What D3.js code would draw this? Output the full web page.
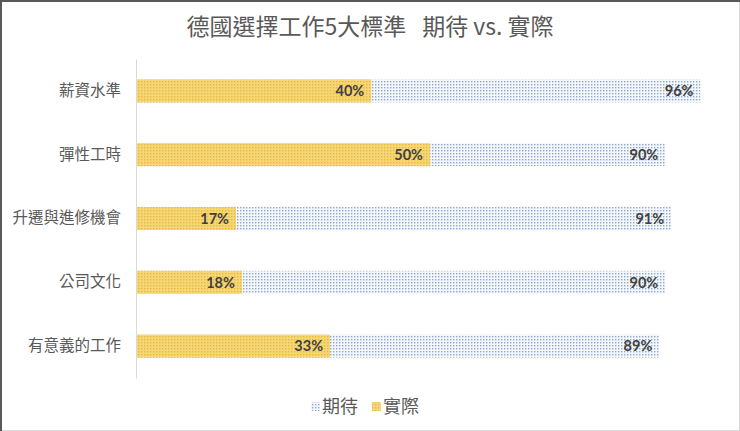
<!DOCTYPE html>
<html>
<head>
<meta charset="utf-8">
<script src="https://cdn.jsdelivr.net/npm/d3@7"></script>
<style>
  html, body { margin: 0; padding: 0; background: #fff; }
  svg { display: block; }
</style>
</head>
<body>
<svg id="chart" width="740" height="431"></svg>
<script>
// data
const categories = ["薪資水準", "彈性工時", "升遷與進修機會", "公司文化", "有意義的工作"];
const expected = [96, 90, 91, 90, 89];
const actual = [40, 50, 17, 18, 33];
const seriesNames = ["期待", "實際"];
const titleParts = ["德國選擇工作5大標準", "期待 vs. 實際"];

const width = 740;
const height = 431;
const margin = { top: 59, right: 16, bottom: 53, left: 136 };

const svg = d3.select("#chart");
const cjk = "'Noto Sans CJK TC', 'Noto Sans CJK SC', sans-serif";

// patterns
const defs = svg.append("defs");
const pBlue = defs.append("pattern")
  .attr("id", "dotBlue").attr("patternUnits", "userSpaceOnUse")
  .attr("width", 3).attr("height", 3);
pBlue.append("rect").attr("width", 3).attr("height", 3).attr("fill", "#f4f7fc");
pBlue.append("rect").attr("x", 0).attr("y", 0).attr("width", 1.4).attr("height", 1.4).attr("fill", "#8ea7cf");

const pYellow = defs.append("pattern")
  .attr("id", "dotYellow").attr("patternUnits", "userSpaceOnUse")
  .attr("width", 3).attr("height", 3);
pYellow.append("rect").attr("width", 3).attr("height", 3).attr("fill", "#f6d675");
pYellow.append("rect").attr("x", 0).attr("y", 0).attr("width", 1.4).attr("height", 1.4).attr("fill", "#e6ba40");

// frame
svg.append("rect").attr("x", 0.5).attr("y", 0.5).attr("width", width - 1).attr("height", height - 1)
  .attr("fill", "#fff").attr("stroke", "#d9d9d9");
svg.append("line").attr("x1", 0).attr("x2", width).attr("y1", 1).attr("y2", 1)
  .attr("stroke", "#595959").attr("stroke-width", 2);
svg.append("line").attr("x1", 1).attr("x2", 1).attr("y1", 0).attr("y2", height)
  .attr("stroke", "#595959").attr("stroke-width", 2);

// scales
const x = d3.scaleLinear().domain([0, 100]).range([margin.left, width - margin.right]);
const y = d3.scaleBand().domain(categories)
  .range([margin.top, height - margin.bottom]).paddingInner(0.64).paddingOuter(0.32);

// title
const titleEl = svg.append("text")
  .attr("x", 370).attr("y", 35)
  .attr("text-anchor", "middle")
  .attr("font-family", cjk).attr("font-size", 23)
  .attr("fill", "#595959");
titleEl.append("tspan").text(titleParts[0]);
titleEl.append("tspan").attr("dx", 16).text(titleParts[1]);

// bars
const rows = categories.map((c, i) => ({ cat: c, exp: expected[i], act: actual[i] }));

svg.append("g").selectAll("rect").data(rows).join("rect")
  .attr("x", x(0)).attr("y", d => y(d.cat))
  .attr("width", d => x(d.exp) - x(0)).attr("height", y.bandwidth())
  .attr("fill", "url(#dotBlue)");

svg.append("g").selectAll("rect").data(rows).join("rect")
  .attr("x", x(0)).attr("y", d => y(d.cat))
  .attr("width", d => x(d.act) - x(0)).attr("height", y.bandwidth())
  .attr("fill", "url(#dotYellow)");

// value labels
const labelFont = "Lato, 'Open Sans', sans-serif";
svg.append("g").selectAll("text").data(rows).join("text")
  .attr("x", d => x(d.exp) - 7).attr("y", d => y(d.cat) + y.bandwidth() / 2)
  .attr("dy", "0.36em").attr("text-anchor", "end")
  .attr("font-family", labelFont).attr("font-weight", "bold").attr("font-size", 14.5)
  .attr("fill", "#404040")
  .text(d => d.exp + "%");

svg.append("g").selectAll("text").data(rows).join("text")
  .attr("x", d => x(d.act) - 7).attr("y", d => y(d.cat) + y.bandwidth() / 2)
  .attr("dy", "0.36em").attr("text-anchor", "end")
  .attr("font-family", labelFont).attr("font-weight", "bold").attr("font-size", 14.5)
  .attr("fill", "#404040")
  .text(d => d.act + "%");

// y axis
const yAxis = svg.append("g")
  .attr("transform", `translate(${margin.left},0)`)
  .call(d3.axisLeft(y).tickSize(0).tickPadding(15));
yAxis.select(".domain").attr("stroke", "#d9d9d9");
yAxis.selectAll("text")
  .attr("font-family", cjk).attr("font-size", 15.5).attr("fill", "#595959");

// legend
const legend = svg.append("g").attr("transform", "translate(0,407)");
const items = [
  { name: seriesNames[0], fill: "url(#dotBlue)", x: 311 },
  { name: seriesNames[1], fill: "url(#dotYellow)", x: 372 },
];
items.forEach(it => {
  legend.append("rect").attr("x", it.x).attr("y", -5).attr("width", 9).attr("height", 9)
    .attr("fill", it.fill);
  legend.append("text").attr("x", it.x + 11).attr("y", 0).attr("dy", "0.36em")
    .attr("font-family", cjk).attr("font-size", 18).attr("fill", "#595959")
    .text(it.name);
});
</script>
</body>
</html>
